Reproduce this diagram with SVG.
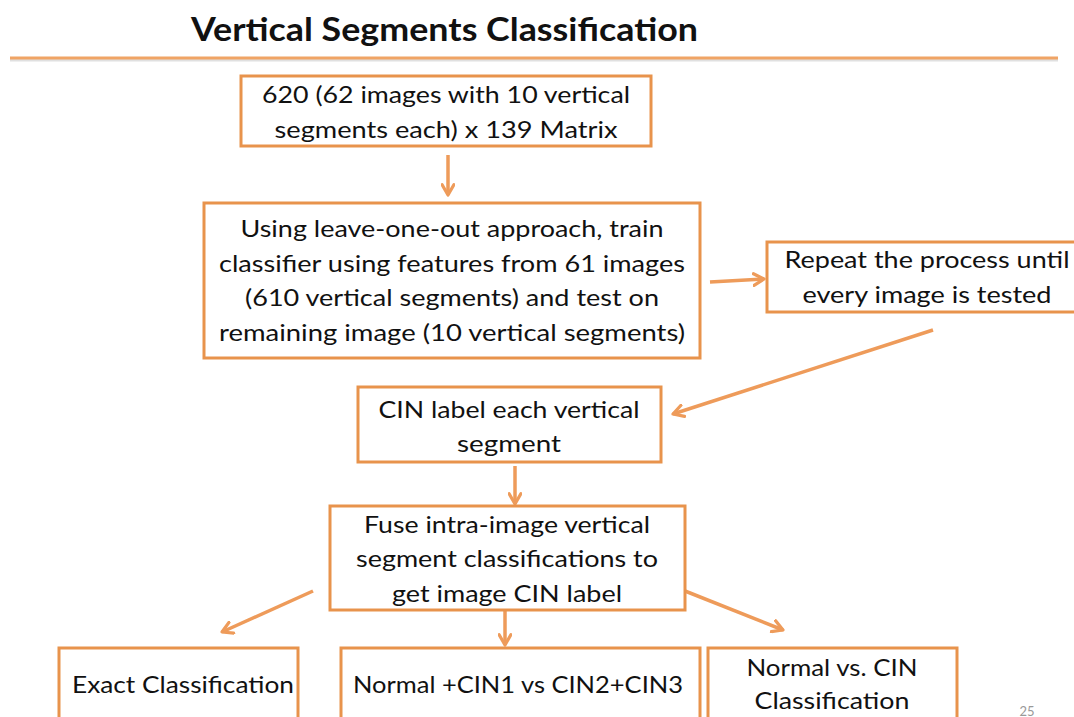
<svg xmlns="http://www.w3.org/2000/svg" width="1074" height="717" viewBox="0 0 1074 717">
<defs>
<style>
.box{fill:#fff;stroke:#E8934C;stroke-width:3}
.t{font-family:Lato,"Liberation Sans",sans-serif;font-size:24px;fill:#111;text-anchor:middle}
.n{font-family:Lato,"Liberation Sans",sans-serif;font-size:24px;fill:#111;text-anchor:middle}
.c{stroke:#EE9B5A;stroke-width:3.5;fill:none;marker-end:url(#ah)}
</style>
<marker id="ah" viewBox="0 0 10 10" refX="8" refY="5" markerWidth="4.2" markerHeight="4.2" orient="auto" markerUnits="strokeWidth">
<path d="M1,1 L8,5 L1,9" fill="none" stroke="#EE9B5A" stroke-width="2.2" stroke-linejoin="round" stroke-linecap="round"/>
</marker>
</defs>
<rect width="1074" height="717" fill="#fff"/>
<g id="title">
<text x="191" y="41" font-family="Lato,'Liberation Sans',sans-serif" font-size="33" font-weight="bold" fill="#111" textLength="507" lengthAdjust="spacingAndGlyphs">Vertical Segments Classification</text>
<line x1="10" y1="60" x2="1058" y2="60" stroke="#ccc" stroke-width="3" opacity="0.6"/>
<line x1="10" y1="58" x2="1058" y2="58" stroke="#F0A465" stroke-width="3"/>
</g>
<g id="connectors">
<line class="c" x1="448" y1="155" x2="448" y2="195"/>
<line class="c" x1="710" y1="282" x2="764" y2="279"/>
<line class="c" x1="933" y1="330" x2="673" y2="414"/>
<line class="c" x1="515" y1="466" x2="515" y2="504"/>
<line class="c" x1="313" y1="591" x2="222" y2="632"/>
<line class="c" x1="505" y1="607" x2="505" y2="645"/>
<line class="c" x1="685" y1="591" x2="783" y2="630"/>
</g>
<g id="n1">
<rect class="box" x="241" y="76" width="410" height="70"/>
<text class="t" x="446" y="103" textLength="368" lengthAdjust="spacingAndGlyphs">620 (62 images with 10 vertical</text>
<text class="t" x="446" y="138" textLength="343" lengthAdjust="spacingAndGlyphs">segments each) x 139 Matrix</text>
</g>
<g id="n2">
<rect class="box" x="204" y="203" width="496" height="155"/>
<text class="t" x="452" y="237" textLength="423" lengthAdjust="spacingAndGlyphs">Using leave-one-out approach, train</text>
<text class="t" x="452" y="272" textLength="466" lengthAdjust="spacingAndGlyphs">classifier using features from 61 images</text>
<text class="t" x="452" y="306" textLength="414" lengthAdjust="spacingAndGlyphs">(610 vertical segments) and test on</text>
<text class="t" x="452" y="341" textLength="466" lengthAdjust="spacingAndGlyphs">remaining image (10 vertical segments)</text>
</g>
<g id="n3">
<rect class="box" x="767" y="242" width="312" height="70"/>
<text class="t" x="927" y="268" textLength="285" lengthAdjust="spacingAndGlyphs">Repeat the process until</text>
<text class="t" x="927" y="303" textLength="249" lengthAdjust="spacingAndGlyphs">every image is tested</text>
</g>
<g id="n4">
<rect class="box" x="358" y="387" width="303" height="75"/>
<text class="t" x="509" y="418" textLength="261" lengthAdjust="spacingAndGlyphs">CIN label each vertical</text>
<text class="t" x="509" y="452" textLength="104" lengthAdjust="spacingAndGlyphs">segment</text>
</g>
<g id="n5">
<rect class="box" x="330" y="506" width="355" height="104"/>
<text class="t" x="507" y="533" textLength="286" lengthAdjust="spacingAndGlyphs">Fuse intra-image vertical</text>
<text class="t" x="507" y="567" textLength="302" lengthAdjust="spacingAndGlyphs">segment classifications to</text>
<text class="t" x="507" y="602" textLength="230" lengthAdjust="spacingAndGlyphs">get image CIN label</text>
</g>
<g id="n6">
<rect class="box" x="59" y="648" width="239" height="72"/>
<text class="n" x="183" y="693" textLength="222" lengthAdjust="spacingAndGlyphs">Exact Classification</text>
</g>
<g id="n7">
<rect class="box" x="341" y="648" width="359" height="72"/>
<text class="n" x="518" y="693" textLength="330" lengthAdjust="spacingAndGlyphs">Normal +CIN1 vs CIN2+CIN3</text>
</g>
<g id="n8">
<rect class="box" x="708" y="648" width="249" height="72"/>
<text class="n" x="832" y="676" textLength="171" lengthAdjust="spacingAndGlyphs">Normal vs. CIN</text>
<text class="n" x="832" y="709" textLength="155" lengthAdjust="spacingAndGlyphs">Classification</text>
</g>
<text x="1027" y="716" font-family="Lato,'Liberation Sans',sans-serif" font-size="13" fill="#999" text-anchor="middle">25</text>
</svg>
